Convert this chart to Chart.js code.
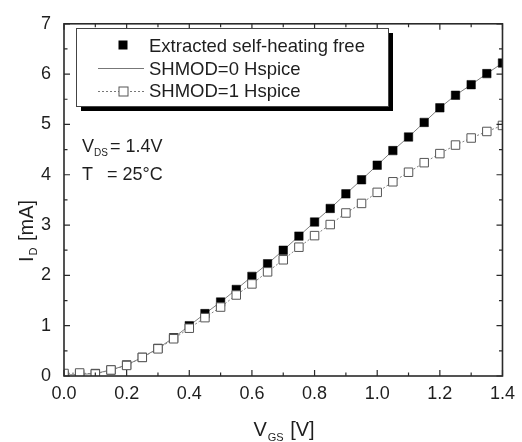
<!DOCTYPE html>
<html>
<head>
<meta charset="utf-8">
<script src="https://cdn.jsdelivr.net/npm/chart.js@4.4.0/dist/chart.umd.min.js"></script>
<style>
html,body{margin:0;padding:0;background:#fff;}
#wrap{width:522px;height:442px;}
</style>
</head>
<body>
<div id="wrap"><canvas id="c" width="522" height="442"></canvas></div>
<script>
// ---- data ----
const vgs = [0.00,0.05,0.10,0.15,0.20,0.25,0.30,0.35,0.40,0.45,0.50,0.55,0.60,0.65,0.70,0.75,0.80,0.85,0.90,0.95,1.00,1.05,1.10,1.15,1.20,1.25,1.30,1.35,1.40];
const idExtracted = [0.02,0.03,0.05,0.12,0.22,0.37,0.55,0.76,1.00,1.24,1.47,1.72,1.98,2.23,2.50,2.78,3.06,3.33,3.62,3.90,4.19,4.48,4.75,5.04,5.33,5.58,5.79,6.01,6.22];
const idShmod0 = [0.02,0.03,0.05,0.12,0.22,0.37,0.55,0.76,1.00,1.24,1.47,1.72,1.98,2.23,2.50,2.78,3.06,3.33,3.62,3.90,4.19,4.48,4.75,5.04,5.33,5.58,5.79,6.01,6.22];
const idShmod1 = [0.05,0.06,0.04,0.12,0.21,0.37,0.54,0.74,0.95,1.16,1.37,1.61,1.83,2.07,2.31,2.56,2.79,3.01,3.24,3.43,3.65,3.86,4.05,4.24,4.42,4.59,4.73,4.86,4.98];
const seriesNames = ["Extracted self-heating free","SHMOD=0 Hspice","SHMOD=1 Hspice"];
const xTicks = [0.0,0.2,0.4,0.6,0.8,1.0,1.2,1.4];
const yTicks = [0,1,2,3,4,5,6,7];

const FONT = '"Liberation Sans", Arial, Helvetica, sans-serif';
const TXT = '#1e1e1e';

function pts(ys){ return vgs.map((x,i)=>({x:x,y:ys[i]})); }

const framePlugin = {
  id:'frame',
  afterDraw(chart){
    const ctx = chart.ctx, a = chart.chartArea;
    const xs = chart.scales.x, ys = chart.scales.y;
    ctx.save();
    // frame
    ctx.strokeStyle = '#2a2a2a';
    ctx.lineWidth = 1.6;
    ctx.strokeRect(a.left, a.top, a.right-a.left, a.bottom-a.top);
    // ticks (inward, mirrored)
    ctx.lineWidth = 1.2;
    ctx.beginPath();
    for(let v=0; v<=1.4001; v+=0.1){
      const major = Math.abs(v/0.2 - Math.round(v/0.2))<1e-6;
      const L = major?6:3.5;
      const px = xs.getPixelForValue(v);
      ctx.moveTo(px,a.bottom); ctx.lineTo(px,a.bottom-L);
      ctx.moveTo(px,a.top); ctx.lineTo(px,a.top+L);
    }
    for(let v=0; v<=7.001; v+=0.5){
      const major = Math.abs(v - Math.round(v))<1e-6;
      const L = major?6:3.5;
      const py = ys.getPixelForValue(v);
      ctx.moveTo(a.left,py); ctx.lineTo(a.left+L,py);
      ctx.moveTo(a.right,py); ctx.lineTo(a.right-L,py);
    }
    ctx.stroke();

    // legend box with shadow
    const lb = {l:76,t:28,r:388,b:106};
    ctx.fillStyle = '#000';
    ctx.fillRect(lb.l+5, lb.t+5, lb.r-lb.l, lb.b-lb.t);
    ctx.fillStyle = '#fff';
    ctx.fillRect(lb.l, lb.t, lb.r-lb.l, lb.b-lb.t);
    ctx.strokeStyle = '#444';
    ctx.lineWidth = 1;
    ctx.strokeRect(lb.l+0.5, lb.t+0.5, lb.r-lb.l, lb.b-lb.t);
    // row 1 marker
    ctx.fillStyle = '#000';
    ctx.fillRect(123-4.5, 45-4.5, 9, 9);
    // row 2 line
    ctx.strokeStyle = '#777';
    ctx.lineWidth = 1;
    ctx.beginPath(); ctx.moveTo(98,68.5); ctx.lineTo(144,68.5); ctx.stroke();
    // row 3 dotted + open square
    ctx.setLineDash([2,2]);
    ctx.beginPath(); ctx.moveTo(98,91.5); ctx.lineTo(144,91.5); ctx.stroke();
    ctx.setLineDash([]);
    ctx.fillStyle = '#fff';
    ctx.fillRect(119,87,9,9);
    ctx.strokeStyle = '#555';
    ctx.strokeRect(119,87,9,9);
    // legend text
    ctx.fillStyle = TXT;
    ctx.font = '18.5px ' + FONT;
    ctx.textAlign = 'left';
    ctx.textBaseline = 'alphabetic';
    ctx.fillText(seriesNames[0], 149, 52);
    ctx.fillText(seriesNames[1], 149, 75);
    ctx.fillText(seriesNames[2], 149, 97);

    // annotation
    ctx.font = '18px ' + FONT;
    ctx.fillText('V', 82, 152);
    ctx.font = '10px ' + FONT;
    ctx.fillText('DS', 94, 156);
    ctx.font = '18px ' + FONT;
    ctx.fillText('= 1.4V', 110, 152);
    ctx.fillText('T', 82, 180);
    ctx.fillText('= 25\u00B0C', 107, 180);

    // x axis title
    ctx.font = '20px ' + FONT;
    const wV = ctx.measureText('V').width;
    ctx.font = '11px ' + FONT;
    const wGS = ctx.measureText('GS').width;
    ctx.font = '20px ' + FONT;
    const wB = ctx.measureText(' [V]').width;
    let x0 = 284 - (wV + wGS + 2 + wB)/2;
    ctx.fillText('V', x0, 436);
    ctx.font = '11px ' + FONT;
    ctx.fillText('GS', x0 + wV + 1, 441);
    ctx.font = '20px ' + FONT;
    ctx.fillText(' [V]', x0 + wV + wGS + 2, 436);

    // y axis title (rotated)
    ctx.save();
    ctx.translate(33, 262);
    ctx.rotate(-Math.PI/2);
    ctx.font = '20px ' + FONT;
    const wI = ctx.measureText('I').width;
    ctx.fillText('I', 0, 0);
    ctx.font = '11px ' + FONT;
    const wD = ctx.measureText('D').width;
    ctx.fillText('D', wI + 1, 4);
    ctx.font = '20px ' + FONT;
    ctx.fillText(' [mA]', wI + wD + 2, 0);
    ctx.restore();

    ctx.restore();
  }
};

new Chart(document.getElementById('c'), {
  type:'line',
  data:{
    datasets:[
      {
        label:seriesNames[0],
        data:pts(idExtracted),
        showLine:false,
        pointStyle:'rect',
        pointRadius:6,
        pointBackgroundColor:'#000',
        pointBorderColor:'#000',
        pointBorderWidth:0.5,
        order:2
      },
      {
        label:seriesNames[1],
        data:pts(idShmod0),
        borderColor:'#808080',
        borderWidth:1,
        pointRadius:0,
        fill:false,
        tension:0,
        order:3
      },
      {
        label:seriesNames[2],
        data:pts(idShmod1),
        borderColor:'#808080',
        borderWidth:1,
        borderDash:[2,2],
        pointStyle:'rect',
        pointRadius:6,
        pointBackgroundColor:'#fff',
        pointBorderColor:'#555',
        pointBorderWidth:1,
        fill:false,
        tension:0,
        order:1
      }
    ]
  },
  options:{
    responsive:false,
    animation:false,
    devicePixelRatio:1,
    layout:{padding:{left:0,right:15,top:15,bottom:0}},
    plugins:{legend:{display:false},tooltip:{enabled:false}},
    scales:{
      x:{
        type:'linear',
        min:0, max:1.4,
        afterFit(s){ s.height = 66; },
        afterBuildTicks(s){ s.ticks = xTicks.map(v=>({value:v})); },
        grid:{display:false, drawTicks:false},
        border:{display:false},
        ticks:{
          padding:7,
          color:TXT,
          font:{family:FONT,size:18},
          maxRotation:0,
          callback:(v)=>Number(v).toFixed(1)
        }
      },
      y:{
        type:'linear',
        min:0, max:7,
        afterFit(s){ s.width = 64; },
        afterBuildTicks(s){ s.ticks = yTicks.map(v=>({value:v})); },
        grid:{display:false, drawTicks:false},
        border:{display:false},
        ticks:{
          padding:13,
          color:TXT,
          font:{family:FONT,size:18},
          callback:(v)=>String(v)
        }
      }
    }
  },
  plugins:[framePlugin]
});
</script>
</body>
</html>
